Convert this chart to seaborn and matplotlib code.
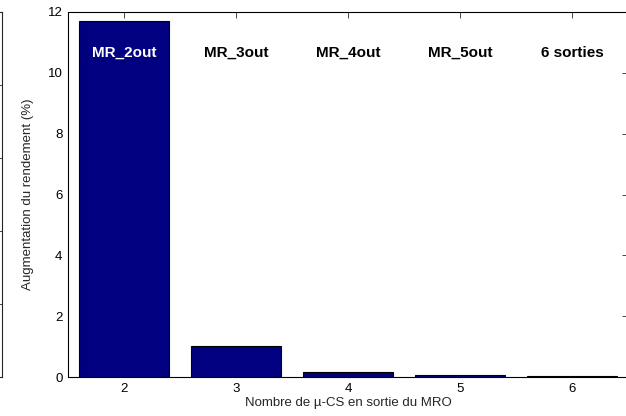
import pandas as pd
import seaborn as sns
import matplotlib.pyplot as plt

# nombre de micro-CS en sortie du MRO et gain de rendement (%)
nb_sorties = [2, 3, 4, 5, 6]
augmentation = [11.72, 1.01, 0.16, 0.07, 0.03]
etiquettes = ['MR_2out', 'MR_3out', 'MR_4out', 'MR_5out', '6 sorties']

df = pd.DataFrame({'sorties': nb_sorties, 'augmentation': augmentation})

sns.set_style('white')
plt.rcParams['font.family'] = ['Liberation Sans', 'DejaVu Sans']

W, H = 626, 416
fig = plt.figure(figsize=(W / 100, H / 100), dpi=100)

# morceau de la figure voisine, coupé au bord gauche
ax0 = fig.add_axes([-100 / W, 39 / H, 102 / W, 365 / H])
ax0.set_ylim(0, 5)
ax0.set_xlim(0, 1)
ax0.set_xticks([])
ax0.set_yticks([1, 2, 3, 4])
ax0.yaxis.tick_right()
ax0.tick_params(axis='y', direction='in', length=4, width=0.6, labelright=False)
for s in ax0.spines.values():
    s.set_linewidth(0.8)

ax = fig.add_axes([68 / W, 39 / H, 560 / W, 365 / H])
sns.barplot(data=df, x='sorties', y='augmentation', order=nb_sorties,
            color='#000080', saturation=1, width=0.8,
            edgecolor='black', linewidth=0.8, ax=ax)

ax.set_xlim(-0.5, 4.5)
ax.set_ylim(0, 12)
ax.set_yticks(range(0, 13, 2))
ax.set_xticks(range(len(nb_sorties)))
ax.set_xticklabels([str(n) for n in nb_sorties])
ax.tick_params(direction='in', length=4, width=0.6, labelsize=9.5,
               top=True, right=True, pad=4, labelcolor='black')
for s in ax.spines.values():
    s.set_linewidth(0.8)
    s.set_color('black')

ax.set_xlabel('Nombre de µ-CS en sortie du MRO', fontsize=9.5, labelpad=2)
ax.set_ylabel('Augmentation du rendement (%)', fontsize=9.5, labelpad=10)

for i, txt in enumerate(etiquettes):
    ax.text(i, 10.65, txt, ha='center', va='center', fontsize=11,
            fontweight='bold', color='white' if i == 0 else 'black')

fig.savefig('out.png', dpi=100)
